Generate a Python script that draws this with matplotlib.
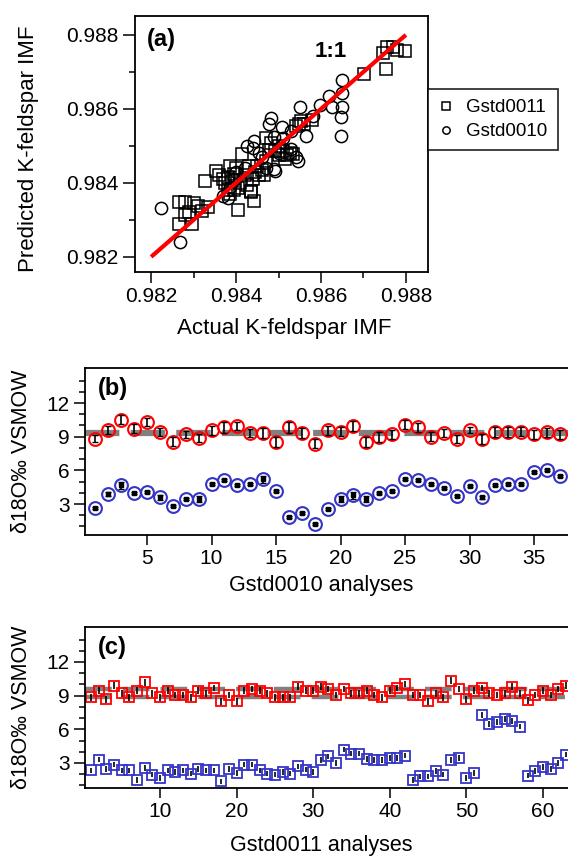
import matplotlib
matplotlib.use("Agg")
import matplotlib.pyplot as plt
from matplotlib.ticker import MultipleLocator, FixedLocator
import numpy as np

plt.rcParams['font.family'] = ['Liberation Sans', 'DejaVu Sans']

# ---------------- Panel (a) data ----------------
sq_x = [0.98797, 0.98745, 0.98755, 0.98770, 0.98778, 0.98753, 0.98702,
        0.98560, 0.98548, 0.98540, 0.98552,
        0.98520, 0.98510, 0.98528, 0.98500, 0.98492, 0.98515, 0.98535,
        0.98482, 0.98478, 0.98470,
        0.98413, 0.98430, 0.98445, 0.98455, 0.98420, 0.98400, 0.98385, 0.98395,
        0.98380, 0.98370, 0.98390, 0.98410, 0.98425, 0.98440, 0.98460, 0.98465,
        0.98405, 0.98395, 0.98380, 0.98435, 0.98434, 0.98443, 0.98404, 0.98385,
        0.98327, 0.98353, 0.98266, 0.98279, 0.98301, 0.98310, 0.98335, 0.98266,
        0.98296, 0.98279, 0.98320, 0.98290,
        0.98470, 0.98450, 0.98375, 0.98360, 0.98500, 0.98580]
sq_y = [0.98756, 0.98752, 0.98768, 0.98768, 0.98760, 0.98707, 0.98693,
        0.98560, 0.98560, 0.98555, 0.98568,
        0.98474, 0.98485, 0.98480, 0.98474, 0.98485, 0.98465, 0.98478,
        0.98508, 0.98490, 0.98520,
        0.98478, 0.98445, 0.98430, 0.98420, 0.98420, 0.98440, 0.98445, 0.98425,
        0.98415, 0.98410, 0.98405, 0.98400, 0.98395, 0.98410, 0.98435, 0.98420,
        0.98385, 0.98380, 0.98380, 0.98375, 0.98379, 0.98352, 0.98326, 0.98370,
        0.98406, 0.98433, 0.98348, 0.98348, 0.98345, 0.98338, 0.98335, 0.98290,
        0.98288, 0.98312, 0.98325, 0.98320,
        0.98460, 0.98445, 0.98400, 0.98420, 0.98500, 0.98570]

ci_x = [0.98223, 0.98268, 0.98381, 0.98443, 0.98440, 0.98482, 0.98478, 0.98492,
        0.98508, 0.98547, 0.98551, 0.98598, 0.98620, 0.98626, 0.98650, 0.98650,
        0.98650, 0.98646, 0.98646, 0.98529, 0.98529, 0.98564, 0.98490, 0.98426,
        0.98400, 0.98460, 0.98581, 0.98385, 0.98420, 0.98470, 0.98500, 0.98510,
        0.98395, 0.98370, 0.98455, 0.98540, 0.98490]
ci_y = [0.98333, 0.98239, 0.98359, 0.98514, 0.98495, 0.98574, 0.98560, 0.98433,
        0.98550, 0.98460, 0.98606, 0.98610, 0.98635, 0.98604, 0.98678, 0.98644,
        0.98606, 0.98577, 0.98527, 0.98541, 0.98491, 0.98527, 0.98438, 0.98500,
        0.98429, 0.98469, 0.98581, 0.98390, 0.98440, 0.98440, 0.98480, 0.98520,
        0.98410, 0.98365, 0.98480, 0.98470, 0.98525]

one_to_one = [0.982, 0.988]

# ---------------- Panel (b) data: Gstd0010 ----------------
b_red = [8.82, 9.59, 10.52, 9.70, 10.32, 9.38, 8.56, 9.20, 8.85, 9.59,
         9.82, 9.97, 9.35, 9.35, 8.56, 9.82, 9.35, 8.36, 9.59, 9.44,
         9.94, 8.56, 9.00, 9.20, 10.05, 9.82, 9.00, 9.35, 8.82, 9.59,
         8.82, 9.44, 9.44, 9.44, 9.20, 9.38, 9.20]
b_red_err = [0.30, 0.35, 0.40, 0.40, 0.35, 0.35, 0.40, 0.30, 0.35, 0.40,
             0.45, 0.35, 0.35, 0.45, 0.45, 0.45, 0.45, 0.40, 0.40, 0.40,
             0.45, 0.45, 0.45, 0.40, 0.40, 0.40, 0.40, 0.35, 0.35, 0.30,
             0.45, 0.45, 0.45, 0.40, 0.40, 0.40, 0.40]
b_blue = [2.62, 3.88, 4.67, 3.97, 4.08, 3.59, 2.80, 3.44, 3.44, 4.76,
          5.11, 4.70, 4.76, 5.20, 4.17, 1.83, 2.21, 1.22, 2.56, 3.44,
          3.79, 3.44, 3.97, 4.17, 5.20, 5.11, 4.81, 4.46, 3.73, 4.61,
          3.59, 4.67, 4.76, 4.76, 5.84, 6.01, 5.49]
b_blue_err = [0.10, 0.15, 0.30, 0.10, 0.10, 0.25, 0.10, 0.10, 0.30, 0.10,
              0.10, 0.10, 0.10, 0.30, 0.10, 0.10, 0.10, 0.10, 0.10, 0.25,
              0.30, 0.25, 0.10, 0.10, 0.10, 0.10, 0.10, 0.10, 0.10, 0.10,
              0.10, 0.10, 0.10, 0.10, 0.10, 0.10, 0.10]
b_ref = [9.35]

# ---------------- Panel (c) data: Gstd0011 ----------------
c_red = [8.85, 9.45, 8.67, 9.90, 9.20, 8.85, 9.45, 10.19, 9.20, 8.85,
         9.45, 9.06, 9.06, 8.85, 9.45, 9.20, 9.68, 8.50, 9.06, 8.50,
         9.45, 9.60, 9.45, 9.20, 8.85, 8.85, 8.85, 9.80, 9.45, 9.45,
         9.80, 9.60, 9.06, 9.60, 9.20, 9.20, 9.45, 9.06, 8.85, 9.45,
         9.68, 10.04, 9.06, 9.06, 8.50, 9.20, 8.85, 10.34, 9.60, 8.67,
         9.45, 9.68, 9.20, 9.06, 9.20, 9.80, 9.20, 8.60, 9.06, 9.45,
         9.06, 9.60, 9.90]
c_blue = [2.34, 3.30, 2.47, 2.85, 2.34, 2.34, 1.50, 2.55, 1.96, 1.66,
          2.34, 2.17, 2.34, 2.05, 2.47, 2.34, 2.34, 1.36, 2.47, 2.11,
          2.85, 2.85, 2.34, 2.05, 1.96, 2.17, 2.05, 2.70, 2.41, 2.17,
          3.24, 3.59, 3.00, 4.19, 3.83, 3.83, 3.36, 3.24, 3.24, 3.42,
          3.42, 3.65, 1.50, 1.80, 1.80, 2.26, 1.96, 3.24, 3.45, 1.66,
          2.11, 7.27, 6.48, 6.63, 6.93, 6.72, 6.25, 1.87, 2.26, 2.64,
          2.47, 3.00, 3.74]
c_red_err = [0.30] * len(c_red)
c_blue_err = [0.25] * len(c_blue)
c_ref = [9.60, 8.88]

RED = '#ff0000'
BLUE = '#3535c8'
GRAY = '#808080'

fig = plt.figure(figsize=(5.68, 8.57), dpi=100)

def style_axes(ax):
    for s in ax.spines.values():
        s.set_linewidth(1.3)
    ax.tick_params(which='both', direction='out', width=1.1, labelsize=15,
                   pad=3)
    ax.tick_params(which='major', length=8)
    ax.tick_params(which='minor', length=4.5)

# ---------------- (a) ----------------
axa = fig.add_axes([0.2377, 0.6826, 0.5158, 0.2987])
axa.plot(one_to_one, one_to_one, color=RED, lw=3, zorder=3, solid_capstyle='butt')
axa.plot(sq_x, sq_y, linestyle='none', marker='s', ms=8.6, mfc='none',
         mec='black', mew=1.1, label='Gstd0011', zorder=2)
axa.plot(ci_x, ci_y, linestyle='none', marker='o', ms=8.8, mfc='none',
         mec='black', mew=1.1, label='Gstd0010', zorder=2)
axa.set_xlim(0.98162, 0.98852)
axa.set_ylim(0.98159, 0.98851)
axa.xaxis.set_major_locator(MultipleLocator(0.002))
axa.yaxis.set_major_locator(MultipleLocator(0.002))
axa.xaxis.set_minor_locator(MultipleLocator(0.001))
axa.yaxis.set_minor_locator(MultipleLocator(0.001))
axa.xaxis.set_major_formatter(matplotlib.ticker.FormatStrFormatter('%.3f'))
axa.yaxis.set_major_formatter(matplotlib.ticker.FormatStrFormatter('%.3f'))
style_axes(axa)
axa.tick_params(axis='y', which='major', length=9)
axa.set_xlabel('Actual K-feldspar IMF', fontsize=16, va='center')
axa.xaxis.set_label_coords(0.508, -0.219)
axa.set_ylabel('Predicted K-feldspar IMF', fontsize=16, va='center')
axa.yaxis.set_label_coords(-0.362, 0.48)
axa.text(0.04, 0.955, '(a)', transform=axa.transAxes, fontsize=17,
         fontweight='bold', ha='left', va='top')
axa.text(0.98624, 0.98755, '1:1', fontsize=16, fontweight='bold',
         ha='center', va='center')
leg = axa.legend(loc='upper left', bbox_to_anchor=(428 / 568, 1 - 89 / 857),
                 bbox_transform=fig.transFigure, fontsize=13.5, frameon=True,
                 fancybox=False, borderaxespad=0, handlelength=0.8,
                 handletextpad=0.7, borderpad=0.55, labelspacing=0.35,
                 markerscale=0.6)
leg.get_frame().set_edgecolor('black')
leg.get_frame().set_linewidth(1.3)

# ---------------- (b) ----------------
axb = fig.add_axes([0.1496, 0.3757, 0.8715, 0.1949])
xb = np.arange(1, len(b_red) + 1)
axb.axhline(b_ref[0], color=GRAY, lw=4.5, dashes=(5.5, 1.8), zorder=1)
axb.plot(xb, b_red, linestyle='none', marker='o', ms=9.2, mfc='none',
         mec=RED, mew=1.5, zorder=2)
axb.plot(xb, b_blue, linestyle='none', marker='o', ms=9.2, mfc='none',
         mec=BLUE, mew=1.5, zorder=2)
axb.errorbar(xb, b_red, yerr=b_red_err, fmt='none', ecolor='black',
             elinewidth=1.2, capsize=2, capthick=1.0, zorder=3)
axb.errorbar(xb, b_blue, yerr=b_blue_err, fmt='s', ms=2.2, mfc='black',
             mec='black', ecolor='black', elinewidth=1.2, capsize=2,
             capthick=1.0, zorder=3)
axb.set_xlim(0.19, 38.56)
axb.set_ylim(0.24, 15.12)
axb.xaxis.set_major_locator(MultipleLocator(5))
axb.yaxis.set_major_locator(FixedLocator([3, 6, 9, 12]))
axb.yaxis.set_minor_locator(FixedLocator(list(range(1, 15))))
style_axes(axb)
axb.tick_params(axis='x', which='major', length=7)
axb.set_xlabel('Gstd0010 analyses', fontsize=15.5, va='center')
axb.xaxis.set_label_coords(0.477, -0.305)
axb.set_ylabel('δ18O‰ VSMOW', fontsize=15.5, va='center')
axb.yaxis.set_label_coords(-0.129, 0.5)
axb.text(0.026, 0.945, '(b)', transform=axb.transAxes, fontsize=17,
         fontweight='bold', ha='left', va='top')

# ---------------- (c) ----------------
axc = fig.add_axes([0.1496, 0.0805, 0.8715, 0.1879])
xc = np.arange(1, len(c_red) + 1)
for r in c_ref:
    axc.axhline(r, color=GRAY, lw=3.2, dashes=(6, 2.5), zorder=1)
axc.plot(xc, c_red, linestyle='none', marker='s', ms=7.2, mfc='none',
         mec=RED, mew=1.3, zorder=2)
axc.plot(xc, c_blue, linestyle='none', marker='s', ms=7.2, mfc='none',
         mec=BLUE, mew=1.3, zorder=2)
axc.errorbar(xc, c_red, yerr=c_red_err, fmt='none', ecolor='black',
             elinewidth=1.2, capsize=0, zorder=3)
axc.errorbar(xc, c_blue, yerr=c_blue_err, fmt='none', ecolor='black',
             elinewidth=1.2, capsize=0, zorder=3)
axc.set_xlim(0.21, 64.83)
axc.set_ylim(0.77, 15.12)
axc.xaxis.set_major_locator(MultipleLocator(10))
axc.yaxis.set_major_locator(FixedLocator([3, 6, 9, 12]))
axc.yaxis.set_minor_locator(FixedLocator(list(range(1, 15))))
style_axes(axc)
axc.tick_params(axis='x', which='major', length=7)
axc.set_xlabel('Gstd0011 analyses', fontsize=15.5, va='center')
axc.xaxis.set_label_coords(0.477, -0.354)
axc.set_ylabel('δ18O‰ VSMOW', fontsize=15.5, va='center')
axc.yaxis.set_label_coords(-0.129, 0.5)
axc.text(0.026, 0.945, '(c)', transform=axc.transAxes, fontsize=17,
         fontweight='bold', ha='left', va='top')

fig.savefig('out.png', dpi=100)
